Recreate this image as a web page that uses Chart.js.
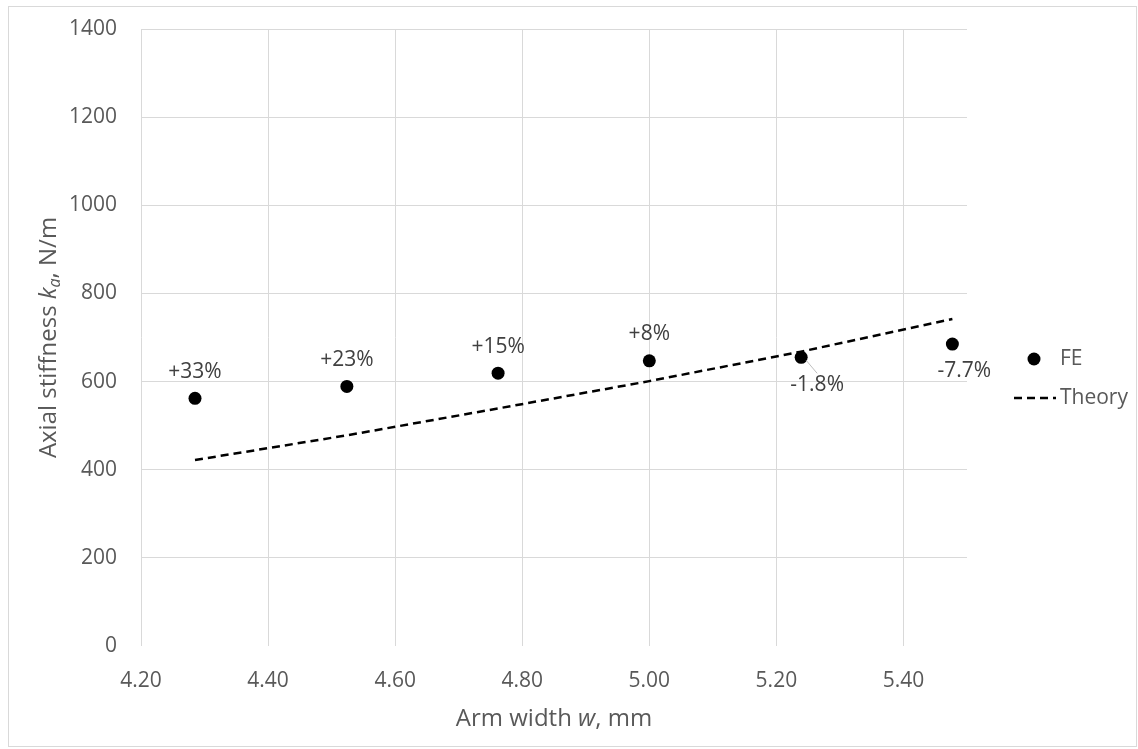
<!DOCTYPE html>
<html>
<head>
<meta charset="utf-8">
<script src="https://cdn.jsdelivr.net/npm/chart.js@4.4.1/dist/chart.umd.min.js"></script>
<style>
  html, body { margin: 0; padding: 0; background: #ffffff; }
  #wrap { position: relative; width: 1138px; height: 749px; }
</style>
</head>
<body>
<div id="wrap"><canvas id="c" width="1138" height="749"></canvas></div>
<script>
// ---------- data ----------
const armWidth = [4.285, 4.524, 4.762, 5.000, 5.239, 5.477];
const feStiffness = [562, 589, 619, 647, 655, 685];
const theoryStiffness = [422, 478, 539, 601, 668, 742];
const diffLabels = ['+33%', '+23%', '+15%', '+8%', '-1.8%', '-7.7%'];
const xTickValues = [4.2, 4.4, 4.6, 4.8, 5.0, 5.2, 5.4];
const xTickLabels = ['4.20', '4.40', '4.60', '4.80', '5.00', '5.20', '5.40'];
const yTickValues = [0, 200, 400, 600, 800, 1000, 1200, 1400];
const yTickLabels = ['0', '200', '400', '600', '800', '1000', '1200', '1400'];
const seriesNames = ['FE', 'Theory'];

// ---------- styles ----------
const FONT = '"Open Sans", "Noto Sans", sans-serif';
const TICK_COLOR = '#595959';
const LABEL_COLOR = '#404040';
const GRID_COLOR = '#d9d9d9';
// label offsets (px) relative to each point
const labelOffsets = [[0, -26], [0, -26], [0, -26], [0, -27], [16, 28], [12, 27]];

const feData = armWidth.map((x, i) => ({ x: x, y: feStiffness[i] }));
const thData = armWidth.map((x, i) => ({ x: x, y: theoryStiffness[i] }));

const decorPlugin = {
  id: 'decor',
  beforeDraw(chart) {
    const ctx = chart.ctx;
    ctx.save();
    ctx.fillStyle = '#ffffff';
    ctx.fillRect(0, 0, chart.width, chart.height);
    ctx.strokeStyle = GRID_COLOR;
    ctx.lineWidth = 1;
    ctx.strokeRect(8.5, 6.5, 1128, 740);
    ctx.restore();
  },
  afterDraw(chart) {
    const ctx = chart.ctx;
    const area = chart.chartArea;
    ctx.save();

    // data labels
    ctx.font = '21px ' + FONT;
    ctx.fillStyle = LABEL_COLOR;
    ctx.textAlign = 'center';
    ctx.textBaseline = 'middle';
    const meta = chart.getDatasetMeta(0);
    meta.data.forEach((pt, i) => {
      const off = labelOffsets[i];
      const lx = pt.x + off[0], ly = pt.y + off[1];
      if (i === 4) {
        ctx.save();
        ctx.strokeStyle = '#bfbfbf';
        ctx.lineWidth = 1;
        ctx.beginPath();
        ctx.moveTo(pt.x + 5, pt.y + 3);
        ctx.lineTo(lx, ly - 12);
        ctx.stroke();
        ctx.restore();
      }
      ctx.fillText(diffLabels[i], lx, ly);
    });

    // x-axis title: "Arm width w, mm"
    ctx.fillStyle = TICK_COLOR;
    ctx.textBaseline = 'alphabetic';
    ctx.textAlign = 'left';
    const xParts = [
      { t: 'Arm width ', f: '24px ' + FONT },
      { t: 'w', f: 'italic 24px ' + FONT },
      { t: ', mm', f: '24px ' + FONT }
    ];
    let total = 0;
    xParts.forEach(p => { ctx.font = p.f; p.w = ctx.measureText(p.t).width; total += p.w; });
    let cx = (area.left + area.right) / 2 - total / 2;
    xParts.forEach(p => { ctx.font = p.f; ctx.fillText(p.t, cx, 726); cx += p.w; });

    // y-axis title: "Axial stiffness k_a, N/m"
    const yParts = [
      { t: 'Axial stiffness ', f: '24px ' + FONT, dy: 0 },
      { t: 'k', f: 'italic 24px ' + FONT, dy: 0 },
      { t: 'a', f: 'italic 16px ' + FONT, dy: 4 },
      { t: ', N/m', f: '24px ' + FONT, dy: 0 }
    ];
    total = 0;
    yParts.forEach(p => { ctx.font = p.f; p.w = ctx.measureText(p.t).width; total += p.w; });
    ctx.save();
    ctx.translate(56, (area.top + area.bottom) / 2);
    ctx.rotate(-Math.PI / 2);
    let px = -total / 2;
    yParts.forEach(p => { ctx.font = p.f; ctx.fillText(p.t, px, p.dy); px += p.w; });
    ctx.restore();

    // legend
    ctx.fillStyle = '#000000';
    ctx.beginPath();
    ctx.arc(1034, 359, 6.5, 0, Math.PI * 2);
    ctx.fill();
    ctx.strokeStyle = '#000000';
    ctx.lineWidth = 2.5;
    ctx.setLineDash([8, 5]);
    ctx.beginPath();
    ctx.moveTo(1014, 398);
    ctx.lineTo(1056, 398);
    ctx.stroke();
    ctx.setLineDash([]);
    ctx.font = '21px ' + FONT;
    ctx.fillStyle = TICK_COLOR;
    ctx.textBaseline = 'middle';
    ctx.textAlign = 'left';
    ctx.fillText(seriesNames[0], 1060, 359);
    ctx.fillText(seriesNames[1], 1060, 398);
    ctx.restore();
  }
};

new Chart(document.getElementById('c'), {
  type: 'scatter',
  data: {
    datasets: [
      {
        label: seriesNames[0],
        data: feData,
        showLine: false,
        pointRadius: 6.5,
        pointHoverRadius: 6.5,
        pointBackgroundColor: '#000000',
        pointBorderColor: '#000000',
        pointBorderWidth: 0,
        order: 0
      },
      {
        label: seriesNames[1],
        data: thData,
        showLine: true,
        borderColor: '#000000',
        borderWidth: 2.5,
        borderDash: [8, 5],
        pointRadius: 0,
        pointHoverRadius: 0,
        fill: false,
        tension: 0,
        order: 1
      }
    ]
  },
  options: {
    responsive: false,
    animation: false,
    events: [],
    layout: { padding: { left: 0, right: 171, top: 29, bottom: 0 } },
    plugins: {
      legend: { display: false },
      tooltip: { enabled: false },
      title: { display: false }
    },
    scales: {
      x: {
        type: 'linear',
        min: 4.2,
        max: 5.5,
        afterFit(scale) { scale.height = 103; scale.paddingLeft = 0; scale.paddingRight = 0; },
        afterBuildTicks(scale) { scale.ticks = xTickValues.map(v => ({ value: v })); },
        border: { display: false },
        grid: { color: GRID_COLOR, lineWidth: 1, drawTicks: false },
        ticks: {
          padding: 22,
          color: TICK_COLOR,
          font: { family: FONT, size: 21 },
          maxRotation: 0,
          autoSkip: false,
          callback(value) {
            const idx = xTickValues.findIndex(v => Math.abs(v - value) < 1e-6);
            return idx >= 0 ? xTickLabels[idx] : '';
          }
        }
      },
      y: {
        type: 'linear',
        min: 0,
        max: 1400,
        afterFit(scale) { scale.width = 141; scale.paddingTop = 0; scale.paddingBottom = 0; },
        afterBuildTicks(scale) { scale.ticks = yTickValues.map(v => ({ value: v })); },
        border: { display: false },
        grid: {
          drawTicks: false,
          lineWidth: 1,
          color: ctx => (ctx.tick && ctx.tick.value === 0) ? 'rgba(0,0,0,0)' : GRID_COLOR
        },
        ticks: {
          padding: 24,
          color: TICK_COLOR,
          font: { family: FONT, size: 21 },
          autoSkip: false,
          callback(value) {
            const idx = yTickValues.findIndex(v => Math.abs(v - value) < 1e-6);
            return idx >= 0 ? yTickLabels[idx] : '';
          }
        }
      }
    }
  },
  plugins: [decorPlugin]
});
</script>
</body>
</html>
